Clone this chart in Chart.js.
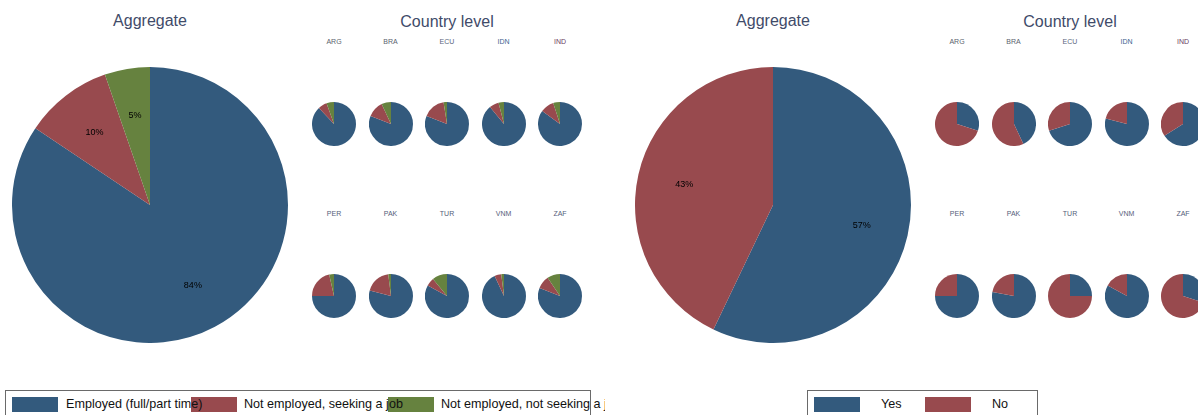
<!DOCTYPE html>
<html>
<head>
<meta charset="utf-8">
<script src="https://cdn.jsdelivr.net/npm/chart.js@4.4.1/dist/chart.umd.min.js"></script>
<style>
  body { margin: 0; background: #fff; font-family: "Liberation Sans", Arial, sans-serif; }
  #page { position: relative; width: 1198px; height: 415px; overflow: hidden; }
  #page canvas { position: absolute; }
  .title { position: absolute; font-size: 16px; color: #3f4b69; transform: translate(-50%, -50%); white-space: nowrap; }
  .clabel { position: absolute; font-size: 7px; color: #4d566e; transform: translate(-50%, -50%); white-space: nowrap; }
  .legbox { position: absolute; top: 390px; height: 40px; border: 1px solid #6a6a6a; box-sizing: border-box; }
  .swatch { position: absolute; top: 397px; width: 46px; height: 15px; }
  .legtext { position: absolute; top: 404px; font-size: 12.6px; color: #111; transform: translateY(-50%); white-space: nowrap; }
  #legclip { position: absolute; left: 0; top: 0; width: 605px; height: 415px; overflow: hidden; }
</style>
</head>
<body>
<div id="page"><div id="legclip"></div></div>
<script>
// Countries, in the order of the small multiples
const countries = ['ARG', 'BRA', 'ECU', 'IDN', 'IND', 'PER', 'PAK', 'TUR', 'VNM', 'ZAF'];

// Left panel: employment status (%)
const employmentLabels = ['Employed (full/part time)', 'Not employed, seeking a job', 'Not employed, not seeking a job'];
const employmentAggregate = [84.4, 10.3, 5.3];
const employedByCountry   = [88, 81, 81, 89, 85, 75, 79, 83, 93, 81];
const seekingByCountry    = [6.5, 12, 16.5, 7, 10, 21.5, 19, 6, 5, 9.5];
const notSeekingByCountry = [5.5, 7, 2.5, 4, 5, 3.5, 2, 11, 2, 9.5];

// Right panel: yes / no (%)
const yesNoLabels = ['Yes', 'No'];
const yesNoAggregate = [57.1, 42.9];
const yesByCountry = [30, 43, 70, 79, 66, 75, 78, 25, 83, 30];
const noByCountry  = [70, 57, 30, 21, 34, 25, 22, 75, 17, 70];

const colors = ['#335a7d', '#984a4e', '#66823f'];
const countryLabelColors = ['#5a5f6e', '#5a5f6e', '#58647e', '#3e5f8f', '#6a3e60',
                            '#55607a', '#55607a', '#55607a', '#55607a', '#55607a'];

const page = document.getElementById('page');
const legclip = document.getElementById('legclip');

// draws the rounded percentage inside each slice
const pctLabels = {
  id: 'pctLabels',
  afterDatasetsDraw(chart, args, opts) {
    if (!opts.show) return;
    const ctx = chart.ctx;
    const vals = chart.data.datasets[0].data;
    const total = vals.reduce((a, b) => a + b, 0);
    chart.getDatasetMeta(0).data.forEach((arc, i) => {
      const mid = (arc.startAngle + arc.endAngle) / 2;
      const r = arc.outerRadius * 0.66;
      ctx.save();
      ctx.font = '9px "Liberation Sans", Arial, sans-serif';
      ctx.fillStyle = '#000';
      ctx.textAlign = 'center';
      ctx.textBaseline = 'middle';
      ctx.fillText(Math.round(vals[i] / total * 100) + '%', arc.x + r * Math.cos(mid), arc.y + r * Math.sin(mid));
      ctx.restore();
    });
  }
};

function addText(cls, text, x, y, color) {
  const d = document.createElement('div');
  d.className = cls;
  d.textContent = text;
  d.style.left = x + 'px';
  d.style.top = y + 'px';
  if (color) d.style.color = color;
  page.appendChild(d);
}

function makePie(labels, values, cx, cy, radius, showPct) {
  const canvas = document.createElement('canvas');
  canvas.width = radius * 2;
  canvas.height = radius * 2;
  canvas.style.left = (cx - radius) + 'px';
  canvas.style.top = (cy - radius) + 'px';
  page.appendChild(canvas);
  new Chart(canvas.getContext('2d'), {
    type: 'pie',
    data: {
      labels: labels,
      datasets: [{
        data: values,
        backgroundColor: colors.slice(0, values.length),
        borderWidth: 0
      }]
    },
    options: {
      responsive: false,
      animation: false,
      layout: { padding: 0 },
      plugins: {
        legend: { display: false },
        tooltip: { enabled: false },
        pctLabels: { show: showPct }
      }
    },
    plugins: [pctLabels]
  });
}

// one panel: aggregate pie + 2x5 grid of country pies
function panel(x0, labels, aggregate, seriesList) {
  addText('title', 'Aggregate', x0 + 150, 21);
  makePie(labels, aggregate, x0 + 150, 205, 138, true);
  addText('title', 'Country level', x0 + 447, 22);
  countries.forEach((c, i) => {
    const col = i % 5, row = Math.floor(i / 5);
    const cx = x0 + 334 + col * 56.5;
    addText('clabel', c, cx, row === 0 ? 41 : 213, countryLabelColors[i]);
    makePie(labels, seriesList.map(s => s[i]), cx, row === 0 ? 124 : 296, 22, false);
  });
}

panel(0, employmentLabels, employmentAggregate, [employedByCountry, seekingByCountry, notSeekingByCountry]);
panel(623, yesNoLabels, yesNoAggregate, [yesByCountry, noByCountry]);

// legends: swatches first, then the texts on top of them
function legend(parent, boxLeft, boxWidth, items) {
  const box = document.createElement('div');
  box.className = 'legbox';
  box.style.left = boxLeft + 'px';
  box.style.width = boxWidth + 'px';
  parent.appendChild(box);
  items.forEach(it => {
    const sw = document.createElement('div');
    sw.className = 'swatch';
    sw.style.left = it.sx + 'px';
    sw.style.background = it.color;
    parent.appendChild(sw);
  });
  items.forEach(it => {
    const tx = document.createElement('div');
    tx.className = 'legtext';
    tx.style.left = it.tx + 'px';
    tx.textContent = it.label;
    parent.appendChild(tx);
  });
}

legend(legclip, 5, 586, [
  { label: employmentLabels[0], color: colors[0], sx: 12, tx: 66 },
  { label: employmentLabels[1], color: colors[1], sx: 191, tx: 244 },
  { label: employmentLabels[2], color: colors[2], sx: 388, tx: 441 }
]);
legend(page, 807, 231, [
  { label: yesNoLabels[0], color: colors[0], sx: 814, tx: 881 },
  { label: yesNoLabels[1], color: colors[1], sx: 925, tx: 992 }
]);
</script>
</body>
</html>
